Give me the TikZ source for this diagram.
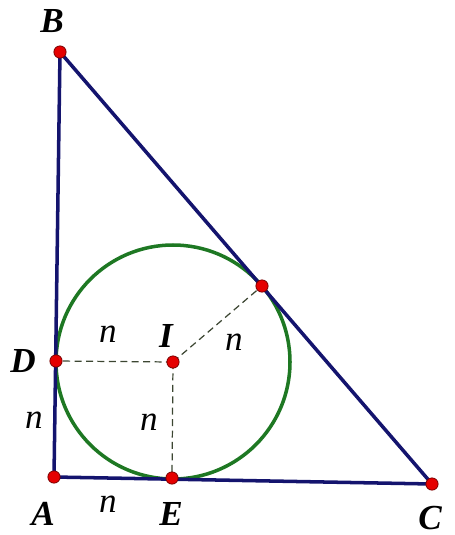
\documentclass[tikz,border=0pt]{standalone}
\usepackage{fontspec}
\setmainfont{Liberation Serif}
\usepackage{tikz}

\begin{document}
\begin{tikzpicture}
    [x=0.02cm, y=-0.02cm,
     side/.style={draw={rgb,255:red,20;green,20;blue,110}, line width=2pt},
     radius line/.style={draw={rgb,255:red,60;green,70;blue,50}, dash pattern=on 4pt off 2.5pt, line width=0.7pt},
     dot/.style={circle, inner sep=0pt, minimum size=7pt, fill=red!90!black, draw=red!45!black, line width=0.4pt},
     lbl/.style={font=\fontsize{20}{24}\selectfont\bfseries\itshape},
     seg/.style={font=\fontsize{20}{24}\selectfont\itshape}]
    \useasboundingbox (0,0) rectangle (455,535);
    \coordinate (A) at (54,477);
    \coordinate (B) at (60,52);
    \coordinate (C) at (432,484);
    \coordinate (D) at (56,361);
    \coordinate (E) at (172,478);
    \coordinate (I) at (173,362);
    \coordinate (F) at (262,286);
    \draw[draw={rgb,255:red,30;green,120;blue,35}, line width=2pt] (I) circle (117);
    \draw[side] (A) -- (B) -- (C) -- cycle;
    \draw[radius line] (I) -- (D);
    \draw[radius line] (I) -- (E);
    \draw[radius line] (I) -- (F);
    \foreach \p in {A,B,C,D,E,I,F}
      \node[dot] (dot\p) at (\p) {};
    \draw (52,21) node[lbl] (labB) {B};
    \draw (23,361) node[lbl] (labD) {D};
    \draw (43,514) node[lbl] (labA) {A};
    \draw (171,514) node[lbl] (labE) {E};
    \draw (430,518) node[lbl] (labC) {C};
    \draw (166,336) node[lbl] (labI) {I};
    \draw (108,334) node[seg] (nDI) {n};
    \draw (234,342) node[seg] (nIF) {n};
    \draw (149,422) node[seg] (nIE) {n};
    \draw (34,420) node[seg] (nAD) {n};
    \draw (108,504) node[seg] (nAE) {n};
\end{tikzpicture}
\end{document}
